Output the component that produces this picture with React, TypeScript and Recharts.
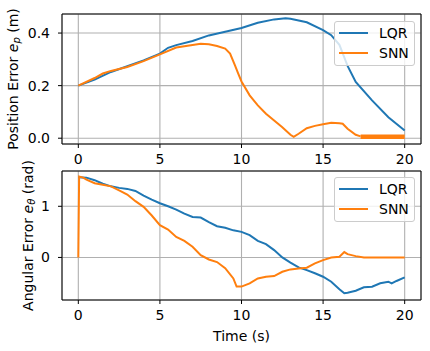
import React from 'react';
import { LineChart, Line, XAxis, YAxis, CartesianGrid, Legend, ReferenceArea, Label } from 'recharts';

// [time (s), value] pairs
const posLqr: [number, number][] = [
  [0, 0.2], [1, 0.223], [2, 0.252], [3, 0.274], [4, 0.296], [5, 0.322], [5.5, 0.344], [6, 0.354],
  [7, 0.37], [8, 0.391], [9, 0.405], [10, 0.419], [11, 0.439], [12, 0.452], [12.7, 0.456],
  [13, 0.454], [14, 0.441], [15, 0.411], [15.5, 0.392], [16, 0.355], [16.5, 0.275], [17, 0.214],
  [18, 0.144], [19, 0.08], [20, 0.029],
];

const posSnn: [number, number][] = [
  [0, 0.2], [1, 0.229], [1.5, 0.246], [2, 0.256], [3, 0.271], [4, 0.293], [5, 0.319], [6, 0.345],
  [7, 0.355], [7.5, 0.359], [8, 0.357], [8.5, 0.351], [9, 0.341], [9.3, 0.322], [9.6, 0.277],
  [9.8, 0.246], [10, 0.216], [10.5, 0.163], [11, 0.125], [11.5, 0.093], [12, 0.067], [12.5, 0.042],
  [13, 0.013], [13.2, 0.005], [13.5, 0.017], [14, 0.038], [14.5, 0.047], [15, 0.053], [15.5, 0.059],
  [16, 0.057], [16.2, 0.055], [16.5, 0.036], [17, 0.013], [17.3, 0.007],
];

// chattering tail of the SNN position error (drawn as a thick band)
const posSnnTail: [number, number][] = [[17.3, 0.006], [20, 0.006]];

const angLqr: [number, number][] = [
  [0, 1.57], [0.5, 1.56], [1, 1.51], [1.5, 1.44], [2, 1.39], [2.5, 1.36], [3, 1.34], [3.5, 1.3],
  [4, 1.21], [4.5, 1.13], [5, 1.06], [5.5, 1.0], [6, 0.935], [6.5, 0.857], [7, 0.79], [7.5, 0.78],
  [8, 0.69], [8.5, 0.61], [9, 0.58], [9.5, 0.53], [10, 0.5], [10.5, 0.435], [11, 0.325],
  [11.5, 0.26], [12, 0.143], [12.5, 0.0], [13, -0.1], [13.5, -0.195], [14, -0.247], [14.5, -0.31],
  [15, -0.377], [15.5, -0.474], [16, -0.62], [16.3, -0.7], [16.5, -0.69], [17, -0.65],
  [17.5, -0.584], [18, -0.571], [18.5, -0.506], [19, -0.474], [19.2, -0.506], [19.5, -0.46],
  [20, -0.39],
];

const angSnn: [number, number][] = [
  [0, 0], [0.05, 1.58], [0.3, 1.56], [0.5, 1.52], [1, 1.45], [1.5, 1.42], [2, 1.39], [2.5, 1.31],
  [3, 1.23], [3.5, 1.1], [4, 0.99], [4.5, 0.82], [5, 0.63], [5.5, 0.545], [6, 0.4], [6.5, 0.325],
  [7, 0.21], [7.5, 0.045], [8, -0.04], [8.5, -0.09], [9, -0.21], [9.5, -0.41], [9.7, -0.57],
  [10, -0.57], [10.5, -0.506], [11, -0.41], [11.5, -0.377], [12, -0.364], [12.5, -0.28],
  [13, -0.234], [13.5, -0.214], [14, -0.2], [14.5, -0.117], [15, -0.052], [15.5, 0.0],
  [16, 0.013], [16.3, 0.104], [16.5, 0.065], [17, 0.026], [17.5, 0.0], [18, 0.0], [20, 0.0],
];

const timeTicks = [0, 5, 10, 15, 20];
const posTicks = [0, 0.2, 0.4];
const angTicks = [0, 1];
const seriesNames = ['LQR', 'SNN'];

const BLUE = '#1f77b4';
const ORANGE = '#ff7f0e';
const FONT = '"DejaVu Sans", sans-serif';
const X_DOMAIN: [number, number] = [-1, 21];
const POS_DOMAIN: [number, number] = [-0.022, 0.4725];
const ANG_DOMAIN: [number, number] = [-0.832, 1.69];

const toRows = (pairs: [number, number][]) => pairs.map(([t, v]) => ({ t, v }));

const LegendBox = () => (
  <div
    style={{
      background: 'rgba(255,255,255,0.8)',
      border: '1px solid #cccccc',
      borderRadius: 3,
      padding: '1px 5px 2px 4px',
      fontFamily: FONT,
      fontSize: 14,
      color: '#000',
    }}
  >
    {seriesNames.map((name, i) => (
      <div key={name} style={{ display: 'flex', alignItems: 'center', height: 20 }}>
        <div style={{ width: 29, height: 2, background: i === 0 ? BLUE : ORANGE, marginRight: 11 }} />
        <span>{name}</span>
      </div>
    ))}
  </div>
);

const yLabel = (main: string, sub: string, unit: string, dx: number) => (props: any) => {
  const vb = props.viewBox;
  const cx = vb.x + dx;
  const cy = vb.y + vb.height / 2;
  return (
    <text
      x={cx}
      y={cy}
      transform={`rotate(-90, ${cx}, ${cy})`}
      textAnchor="middle"
      dominantBaseline="central"
      fontSize={14}
      fontFamily={FONT}
      fill="#000"
    >
      {main}
      <tspan fontStyle="italic">e</tspan>
      <tspan fontStyle="italic" fontSize={10} dy={3}>{sub}</tspan>
      <tspan dy={-3}>{unit}</tspan>
    </text>
  );
};

const timeLabel = (props: any) => {
  const vb = props.viewBox;
  return (
    <text
      x={vb.x + vb.width / 2}
      y={vb.y + 36}
      textAnchor="middle"
      dominantBaseline="central"
      fontSize={14}
      fontFamily={FONT}
      fill="#000"
    >
      Time (s)
    </text>
  );
};

const axisTick = { fill: '#000', fontSize: 14, fontFamily: FONT };

export default function App() {
  return (
    <div style={{ position: 'absolute', left: 0, top: 0, width: 430, height: 351, background: '#fff' }}>
      <div style={{ position: 'absolute', left: 0, top: 0 }}>
        <LineChart width={430} height={170} margin={{ top: 14, right: 9, left: 0, bottom: 0 }}>
          <CartesianGrid stroke="#b0b0b0" strokeWidth={1.1} />
          <XAxis
            type="number"
            dataKey="t"
            domain={X_DOMAIN}
            ticks={timeTicks}
            allowDataOverflow
            height={26}
            axisLine={false}
            stroke="#000"
            tickSize={4}
            tickMargin={6}
            tick={axisTick}
          />
          <YAxis
            type="number"
            domain={POS_DOMAIN}
            ticks={posTicks}
            allowDataOverflow
            width={62}
            axisLine={false}
            stroke="#000"
            tickSize={4}
            tickMargin={8}
            tick={axisTick}
            tickFormatter={(v: number) => v.toFixed(1)}
          >
            <Label content={yLabel('Position Error ', 'p', ' (m)', 13)} />
          </YAxis>
          <Line data={toRows(posLqr)} dataKey="v" name="LQR" stroke={BLUE} strokeWidth={2} dot={false} isAnimationActive={false} />
          <Line data={toRows(posSnn)} dataKey="v" name="SNN" stroke={ORANGE} strokeWidth={2} dot={false} isAnimationActive={false} />
          <Line data={toRows(posSnnTail)} dataKey="v" name="SNN tail" stroke={ORANGE} strokeWidth={4.5} dot={false} isAnimationActive={false} />
          <ReferenceArea x1={X_DOMAIN[0]} x2={X_DOMAIN[1]} y1={POS_DOMAIN[0]} y2={POS_DOMAIN[1]} fill="none" stroke="#000" strokeWidth={1} fillOpacity={0} />
          <Legend
            layout="vertical"
            align="center"
            verticalAlign="middle"
            content={() => <LegendBox />}
            wrapperStyle={{ position: 'absolute', left: 334, top: 21, width: 'auto' }}
          />
        </LineChart>
      </div>
      <div style={{ position: 'absolute', left: 0, top: 160 }}>
        <LineChart width={430} height={191} margin={{ top: 11, right: 9, left: 0, bottom: 0 }}>
          <CartesianGrid stroke="#b0b0b0" strokeWidth={1.1} />
          <XAxis
            type="number"
            dataKey="t"
            domain={X_DOMAIN}
            ticks={timeTicks}
            allowDataOverflow
            height={51}
            axisLine={false}
            stroke="#000"
            tickSize={4}
            tickMargin={6}
            tick={axisTick}
          >
            <Label content={timeLabel} />
          </XAxis>
          <YAxis
            type="number"
            domain={ANG_DOMAIN}
            ticks={angTicks}
            allowDataOverflow
            width={62}
            axisLine={false}
            stroke="#000"
            tickSize={4}
            tickMargin={8}
            tick={axisTick}
          >
            <Label content={yLabel('Angular Error ', 'θ', ' (rad)', 28)} />
          </YAxis>
          <Line data={toRows(angLqr)} dataKey="v" name="LQR" stroke={BLUE} strokeWidth={2} dot={false} isAnimationActive={false} />
          <Line data={toRows(angSnn)} dataKey="v" name="SNN" stroke={ORANGE} strokeWidth={2} dot={false} isAnimationActive={false} />
          <ReferenceArea x1={X_DOMAIN[0]} x2={X_DOMAIN[1]} y1={ANG_DOMAIN[0]} y2={ANG_DOMAIN[1]} fill="none" stroke="#000" strokeWidth={1} fillOpacity={0} />
          <Legend
            layout="vertical"
            align="center"
            verticalAlign="middle"
            content={() => <LegendBox />}
            wrapperStyle={{ position: 'absolute', left: 334, top: 17, width: 'auto' }}
          />
        </LineChart>
      </div>
    </div>
  );
}
